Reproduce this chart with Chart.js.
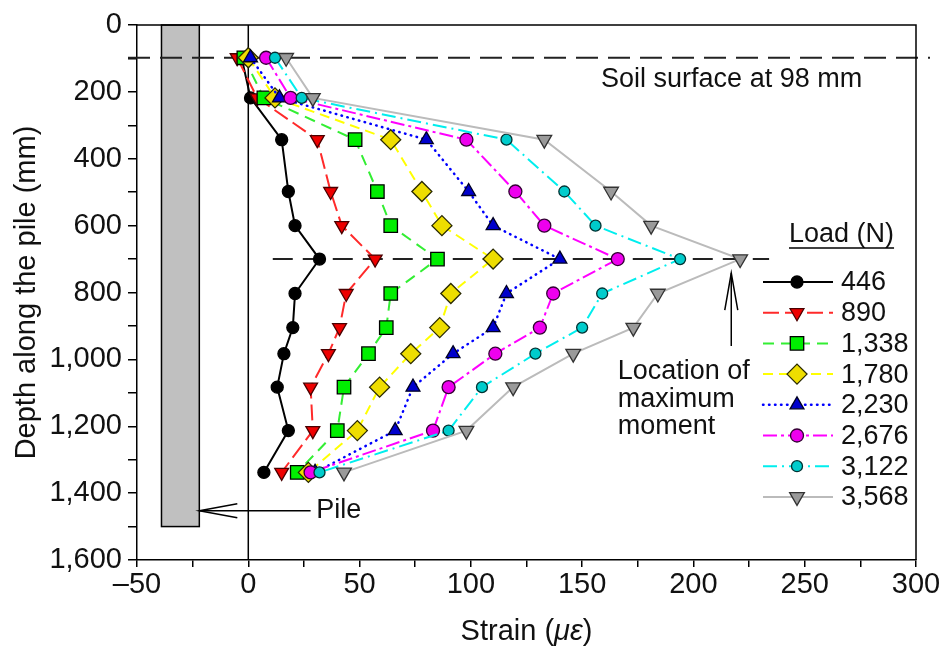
<!DOCTYPE html>
<html>
<head>
<meta charset="utf-8">
<title>Strain along the pile</title>
<script src="https://cdn.jsdelivr.net/npm/chart.js@4.4.1/dist/chart.umd.min.js"></script>
<style>
  html, body { margin: 0; padding: 0; background: #fff; }
  #wrap { width: 942px; height: 653px; }
</style>
</head>
<body>
<div id="wrap"><canvas id="strainChart" width="942" height="653"></canvas></div>
<script>
// gauge depths along the pile (mm)
const depths = [98, 218, 343, 498, 600, 700, 803, 905, 983, 1083, 1213, 1338];

// strain (micro-strain) at each gauge, one array per load step
const strain446  = [-3, 1, 15, 18, 21, 32, 21, 20, 16, 13, 18, 7];
const strain890  = [-5, 4, 31, 37, 42, 57, 44, 41, 36, 28, 29, 15];
const strain1338 = [-2, 7, 48, 58, 64, 85, 64, 62, 54, 43, 40, 22];
const strain1780 = [0, 12, 64, 78, 87, 110, 91, 86, 73, 59, 49, 27];
const strain2230 = [1, 14, 80, 99, 110, 140, 116, 110, 92, 74, 66, 30];
const strain2676 = [8, 19, 98, 120, 133, 166, 137, 131, 111, 90, 83, 28];
const strain3122 = [12, 24, 116, 142, 156, 194, 159, 150, 129, 105, 90, 32];
const strain3568 = [17, 29, 133, 163, 181, 221, 184, 173, 146, 119, 98, 43];

const loadLabels = ['446', '890', '1,338', '1,780', '2,230', '2,676', '3,122', '3,568'];
const allStrains = [strain446, strain890, strain1338, strain1780, strain2230, strain2676, strain3122, strain3568];

// axis ticks
const xTickLabels = [-50, 0, 50, 100, 150, 200, 250, 300];
const yTickLabels = [0, 200, 400, 600, 800, 1000, 1200, 1400, 1600];

// annotations
const soilDepth = 98;
const maxMomentDepth = 700;
const pileLeft = -39, pileRight = -22, pileBottom = 1500;

const FONT = "'Liberation Sans', Arial, Helvetica, sans-serif";
const TEXT = '#111';

// look of each series
const seriesStyles = [
    { line: '#000000', fill: '#000000', edge: '#000000', shape: 'circle',   r: 6,   rot: 0,   dash: [] },
    { line: '#ff2a2a', fill: '#ee0000', edge: '#4a0000', shape: 'triangle', r: 8,   rot: 180, dash: [16, 6] },
    { line: '#33ee33', fill: '#00ee00', edge: '#000000', shape: 'rect',     r: 9.5, rot: 0,   dash: [11, 7] },
    { line: '#ffff00', fill: '#eedd00', edge: '#2a2a00', shape: 'rectRot',  r: 10,  rot: 0,   dash: [10, 6] },
    { line: '#0000ff', fill: '#0000cc', edge: '#000022', shape: 'triangle', r: 8,   rot: 0,   dash: [0.5, 5.5] },
    { line: '#ff00ff', fill: '#ee00ee', edge: '#330033', shape: 'circle',   r: 6.5, rot: 0,   dash: [14, 4, 3, 4] },
    { line: '#00eeee', fill: '#00cccc', edge: '#003333', shape: 'circle',   r: 5.5, rot: 0,   dash: [14, 5, 2, 5] },
    { line: '#bbbbbb', fill: '#9a9a9a', edge: '#333333', shape: 'triangle', r: 8.5, rot: 180, dash: [] }
];

const datasets = allStrains.map((vals, i) => {
    const s = seriesStyles[i];
    return {
        label: loadLabels[i],
        data: vals.map((v, k) => ({ x: v, y: depths[k] })),
        showLine: true,
        borderColor: s.line,
        borderWidth: i === 4 ? 2.5 : 2,
        borderDash: s.dash,
        borderCapStyle: i === 4 ? 'round' : 'butt',
        pointStyle: s.shape,
        pointRotation: s.rot,
        pointRadius: s.r,
        pointBackgroundColor: s.fill,
        pointBorderColor: s.edge,
        pointBorderWidth: 1.3,
        tension: 0,
        order: allStrains.length - i
    };
});

function fmt(v) {
    if (v < 0) return '\u2013' + Math.abs(v);
    return v.toLocaleString('en-US');
}

function arrowHead(ctx, tipX, tipY, dirX, dirY, len, half) {
    // open arrowhead, two strokes back from the tip
    const px = -dirY, py = dirX;
    ctx.beginPath();
    ctx.moveTo(tipX - dirX * len + px * half, tipY - dirY * len + py * half);
    ctx.lineTo(tipX, tipY);
    ctx.lineTo(tipX - dirX * len - px * half, tipY - dirY * len - py * half);
    ctx.stroke();
}

const backdrop = {
    id: 'backdrop',
    beforeDatasetsDraw(chart) {
        const { ctx, chartArea: a, scales: { x, y } } = chart;
        ctx.save();
        // pile
        const pl = x.getPixelForValue(pileLeft), pr = x.getPixelForValue(pileRight);
        const pt = y.getPixelForValue(0), pb = y.getPixelForValue(pileBottom);
        ctx.fillStyle = '#c0c0c0';
        ctx.fillRect(pl, pt, pr - pl, pb - pt);
        ctx.strokeStyle = '#000';
        ctx.lineWidth = 1.5;
        ctx.strokeRect(pl, pt, pr - pl, pb - pt);
        // zero strain line
        const x0 = x.getPixelForValue(0);
        ctx.beginPath();
        ctx.moveTo(x0, a.top);
        ctx.lineTo(x0, a.bottom);
        ctx.stroke();
        // soil surface
        ctx.strokeStyle = '#222';
        ctx.lineWidth = 2;
        ctx.setLineDash([22, 10]);
        const ys = y.getPixelForValue(soilDepth);
        ctx.beginPath();
        ctx.moveTo(a.left - 9, ys);
        ctx.lineTo(a.right + 14, ys);
        ctx.stroke();
        // location of maximum moment
        const ym = y.getPixelForValue(maxMomentDepth);
        ctx.setLineDash([20, 10]);
        ctx.beginPath();
        ctx.moveTo(x.getPixelForValue(11), ym);
        ctx.lineTo(x.getPixelForValue(234), ym);
        ctx.stroke();
        ctx.restore();
    },
    afterDraw(chart) {
        const { ctx, chartArea: a, scales: { x, y } } = chart;
        ctx.save();
        // frame top and right
        ctx.strokeStyle = '#000';
        ctx.lineWidth = 1.5;
        ctx.beginPath();
        ctx.moveTo(a.left, a.top);
        ctx.lineTo(a.right, a.top);
        ctx.lineTo(a.right, a.bottom);
        ctx.stroke();

        ctx.fillStyle = TEXT;
        ctx.font = '27px ' + FONT;
        ctx.textAlign = 'left';
        ctx.textBaseline = 'middle';
        ctx.fillText('Soil surface at 98 mm', x.getPixelForValue(158.5), y.getPixelForValue(164));

        // pile arrow
        const py = y.getPixelForValue(1453);
        const pTip = x.getPixelForValue(pileRight);
        ctx.lineWidth = 1.5;
        ctx.beginPath();
        ctx.moveTo(pTip, py);
        ctx.lineTo(x.getPixelForValue(28), py);
        ctx.stroke();
        arrowHead(ctx, pTip, py, -1, 0, 38, 7);
        ctx.fillText('Pile', x.getPixelForValue(30.5), py);

        // max moment arrow
        const ax = x.getPixelForValue(217);
        const aTip = y.getPixelForValue(742);
        ctx.beginPath();
        ctx.moveTo(ax, y.getPixelForValue(960));
        ctx.lineTo(ax, aTip);
        ctx.stroke();
        arrowHead(ctx, ax, aTip, 0, -1, 37, 6.5);
        const tx = x.getPixelForValue(166);
        const ty = y.getPixelForValue(1037);
        ['Location of', 'maximum', 'moment'].forEach((t, k) => ctx.fillText(t, tx, ty + k * 27.5));

        // legend
        ctx.fillText('Load (N)', 789, 235);
        const w = ctx.measureText('Load (N)').width;
        ctx.beginPath();
        ctx.moveTo(789, 248);
        ctx.lineTo(789 + w, 248);
        ctx.stroke();
        chart.data.datasets.forEach((ds, i) => {
            const ly = 282 + i * 30.7;
            ctx.save();
            ctx.strokeStyle = ds.borderColor;
            ctx.lineWidth = ds.borderWidth;
            ctx.lineCap = ds.borderCapStyle;
            ctx.setLineDash(ds.borderDash);
            ctx.beginPath();
            ctx.moveTo(763, ly);
            ctx.lineTo(833, ly);
            ctx.stroke();
            ctx.setLineDash([]);
            ctx.fillStyle = ds.pointBackgroundColor;
            ctx.strokeStyle = ds.pointBorderColor;
            ctx.lineWidth = ds.pointBorderWidth;
            Chart.helpers.drawPoint(ctx, {
                pointStyle: ds.pointStyle,
                rotation: ds.pointRotation,
                radius: ds.pointRadius,
                borderWidth: ds.pointBorderWidth
            }, 797, ly);
            ctx.restore();
            ctx.fillStyle = TEXT;
            ctx.fillText(ds.label, 841, ly + 1);
        });

        // x axis title with italic micro-strain
        const parts = [['Strain (', ''], ['\u03bc\u03b5', 'italic '], [')', '']];
        let total = 0;
        parts.forEach(p => { ctx.font = p[1] + '29px ' + FONT; total += ctx.measureText(p[0]).width; });
        let cx = (a.left + a.right) / 2 - total / 2;
        parts.forEach(p => {
            ctx.font = p[1] + '29px ' + FONT;
            ctx.fillText(p[0], cx, 632);
            cx += ctx.measureText(p[0]).width;
        });
        ctx.restore();
    }
};

new Chart(document.getElementById('strainChart'), {
    type: 'scatter',
    data: { datasets: datasets },
    options: {
        responsive: false,
        animation: false,
        devicePixelRatio: 1,
        layout: { padding: { top: 25, right: 26, bottom: 0, left: 0 } },
        plugins: {
            legend: { display: false },
            tooltip: { enabled: false }
        },
        scales: {
            x: {
                type: 'linear',
                min: -50,
                max: 300,
                afterFit: (scale) => { scale.height = 93; },
                grid: { drawOnChartArea: false, color: '#000', tickLength: 7, lineWidth: 1.5 },
                border: { color: '#000', width: 1.5 },
                ticks: {
                    stepSize: 25,
                    autoSkip: false,
                    maxRotation: 0,
                    padding: 1,
                    color: TEXT,
                    font: { family: FONT, size: 29 },
                    callback: (v) => xTickLabels.includes(v) ? fmt(v) : ''
                }
            },
            y: {
                type: 'linear',
                min: 0,
                max: 1600,
                reverse: true,
                afterFit: (scale) => { scale.width = 137; },
                grid: { drawOnChartArea: false, color: '#000', tickLength: 9, lineWidth: 1.5 },
                border: { color: '#000', width: 1.5 },
                title: {
                    display: true,
                    text: 'Depth along the pile (mm)',
                    color: TEXT,
                    font: { family: FONT, size: 29 },
                    padding: { top: 10, bottom: 0 }
                },
                ticks: {
                    stepSize: 100,
                    autoSkip: false,
                    padding: 6,
                    color: TEXT,
                    font: { family: FONT, size: 29 },
                    callback: (v) => yTickLabels.includes(v) ? fmt(v) : ''
                }
            }
        }
    },
    plugins: [backdrop]
});
</script>
</body>
</html>
